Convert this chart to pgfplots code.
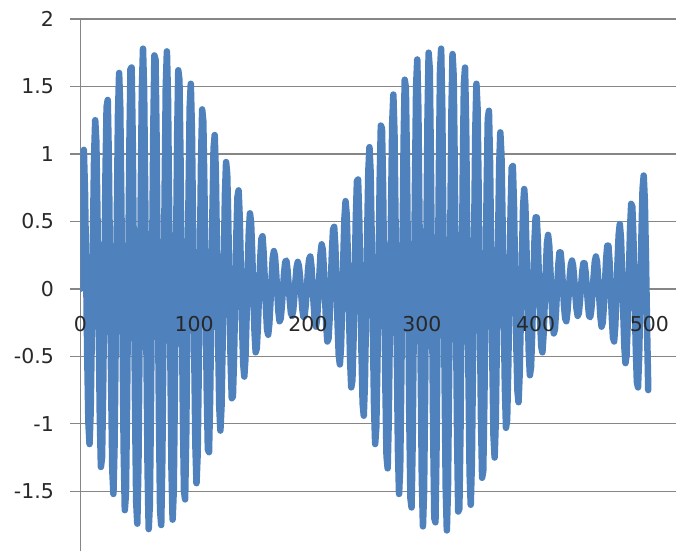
\documentclass[border=0pt]{standalone}
\usepackage{fontspec}
\setmainfont{DejaVu Sans}
\usepackage{pgfplots}
\pgfplotsset{compat=1.18}
\definecolor{exblue}{RGB}{79,129,189}
\definecolor{gridgray}{RGB}{134,134,134}
\definecolor{lblgray}{RGB}{40,40,40}
\begin{document}
\begin{tikzpicture}
\path (0,0) rectangle (677pt,552pt);
\begin{axis}[
 at={(80.5pt,0pt)}, anchor=south west,
 scale only axis, width=596.5pt, height=533pt,
 xmin=0, xmax=523.7, ymin=-1.946, ymax=2,
 clip mode=individual,
 axis x line=none, axis y line*=left,
 y axis line style={gridgray, line width=1.3pt},
 xtick=\empty,
 ytick={-1.5,-1,-0.5,0,0.5,1,1.5,2}, yticklabels={-1.5,-1,-0.5,0,0.5,1,1.5,2},
 ytick style={gridgray, line width=1.3pt},
 tick align=outside, major tick length=10pt,
 ymajorgrids, grid style={gridgray, line width=1.3pt},
 tick label style={font=\fontsize{20.5}{24}\selectfont, text=lblgray},
 yticklabel style={anchor=east, xshift=-13pt},
]
\addplot[exblue, line width=6.5pt, line join=round, line cap=round] coordinates {
(0,0) (1,0.58) (2,0.97) (3,1.03) (4,0.73) (5,0.16) (6,-0.50) (7,-0.99) (8,-1.15) (9,-0.91)
(10,-0.33) (11,0.38) (12,0.98) (13,1.25) (14,1.09) (15,0.53) (16,-0.23) (17,-0.93) (18,-1.32) (19,-1.25)
(20,-0.74) (21,0.05) (22,0.84) (23,1.35) (24,1.40) (25,0.95) (26,0.16) (27,-0.71) (28,-1.34) (29,-1.52)
(30,-1.16) (31,-0.38) (32,0.54) (33,1.29) (34,1.60) (35,1.35) (36,0.62) (37,-0.34) (38,-1.19) (39,-1.64)
(40,-1.52) (41,-0.85) (42,0.11) (43,1.05) (44,1.63) (45,1.64) (46,1.08) (47,0.13) (48,-0.87) (49,-1.58)
(50,-1.74) (51,-1.29) (52,-0.38) (53,0.67) (54,1.48) (55,1.78) (56,1.46) (57,0.63) (58,-0.43) (59,-1.34)
(60,-1.78) (61,-1.60) (62,-0.86) (63,0.18) (64,1.16) (65,1.73) (66,1.70) (67,1.07) (68,0.07) (69,-0.95)
(70,-1.64) (71,-1.75) (72,-1.25) (73,-0.32) (74,0.72) (75,1.50) (76,1.76) (77,1.40) (78,0.55) (79,-0.47)
(80,-1.33) (81,-1.71) (82,-1.50) (83,-0.76) (84,0.23) (85,1.13) (86,1.62) (87,1.55) (88,0.94) (89,0.01)
(90,-0.91) (91,-1.50) (92,-1.56) (93,-1.08) (94,-0.23) (95,0.68) (96,1.34) (97,1.52) (98,1.17) (99,0.43)
(100,-0.45) (101,-1.15) (102,-1.44) (103,-1.23) (104,-0.59) (105,0.23) (106,0.96) (107,1.33) (108,1.24) (109,0.72)
(110,-0.03) (111,-0.75) (112,-1.19) (113,-1.21) (114,-0.81) (115,-0.14) (116,0.56) (117,1.04) (118,1.14) (119,0.86)
(120,0.28) (121,-0.37) (122,-0.87) (123,-1.05) (124,-0.87) (125,-0.39) (126,0.20) (127,0.70) (128,0.94) (129,0.85)
(130,0.47) (131,-0.05) (132,-0.54) (133,-0.81) (134,-0.80) (135,-0.51) (136,-0.06) (137,0.39) (138,0.68) (139,0.73)
(140,0.53) (141,0.16) (142,-0.25) (143,-0.55) (144,-0.65) (145,-0.52) (146,-0.22) (147,0.14) (148,0.43) (149,0.56)
(150,0.49) (151,0.26) (152,-0.05) (153,-0.32) (154,-0.47) (155,-0.44) (156,-0.27) (157,-0.02) (158,0.22) (159,0.37)
(160,0.39) (161,0.27) (162,0.07) (163,-0.14) (164,-0.30) (165,-0.34) (166,-0.26) (167,-0.10) (168,0.08) (169,0.23)
(170,0.28) (171,0.24) (172,0.12) (173,-0.03) (174,-0.17) (175,-0.24) (176,-0.22) (177,-0.13) (178,0.00) (179,0.12)
(180,0.20) (181,0.21) (182,0.14) (183,0.03) (184,-0.09) (185,-0.18) (186,-0.20) (187,-0.16) (188,-0.06) (189,0.06)
(190,0.16) (191,0.20) (192,0.17) (193,0.09) (194,-0.03) (195,-0.15) (196,-0.21) (197,-0.20) (198,-0.12) (199,0.00)
(200,0.14) (201,0.22) (202,0.24) (203,0.17) (204,0.03) (205,-0.12) (206,-0.24) (207,-0.28) (208,-0.22) (209,-0.08)
(210,0.10) (211,0.26) (212,0.33) (213,0.29) (214,0.14) (215,-0.07) (216,-0.27) (217,-0.39) (218,-0.37) (219,-0.22)
(220,0.02) (221,0.27) (222,0.44) (223,0.46) (224,0.32) (225,0.05) (226,-0.26) (227,-0.49) (228,-0.56) (229,-0.43)
(230,-0.14) (231,0.22) (232,0.52) (233,0.65) (234,0.55) (235,0.25) (236,-0.16) (237,-0.53) (238,-0.73) (239,-0.68)
(240,-0.38) (241,0.07) (242,0.52) (243,0.80) (244,0.81) (245,0.53) (246,0.05) (247,-0.47) (248,-0.85) (249,-0.94)
(250,-0.70) (251,-0.19) (252,0.40) (253,0.87) (254,1.05) (255,0.87) (256,0.36) (257,-0.29) (258,-0.86) (259,-1.15)
(260,-1.03) (261,-0.55) (262,0.15) (263,0.81) (264,1.21) (265,1.19) (266,0.75) (267,0.03) (268,-0.72) (269,-1.24)
(270,-1.33) (271,-0.95) (272,-0.23) (273,0.60) (274,1.23) (275,1.44) (276,1.15) (277,0.44) (278,-0.43) (279,-1.18)
(280,-1.52) (281,-1.33) (282,-0.67) (283,0.24) (284,1.08) (285,1.55) (286,1.49) (287,0.90) (288,-0.02) (289,-0.95)
(290,-1.55) (291,-1.62) (292,-1.12) (293,-0.22) (294,0.77) (295,1.50) (296,1.70) (297,1.32) (298,0.46) (299,-0.56)
(300,-1.40) (301,-1.76) (302,-1.50) (303,-0.71) (304,0.33) (305,1.26) (306,1.75) (307,1.63) (308,0.94) (309,-0.08)
(310,-1.08) (311,-1.70) (312,-1.73) (313,-1.15) (314,-0.17) (315,0.87) (316,1.61) (317,1.78) (318,1.33) (319,0.42)
(320,-0.64) (321,-1.47) (322,-1.79) (323,-1.48) (324,-0.66) (325,0.39) (326,1.29) (327,1.74) (328,1.58) (329,0.87)
(330,-0.14) (331,-1.09) (332,-1.65) (333,-1.63) (334,-1.05) (335,-0.10) (336,0.86) (337,1.52) (338,1.64) (339,1.19)
(340,0.33) (341,-0.63) (342,-1.36) (343,-1.60) (344,-1.29) (345,-0.53) (346,0.39) (347,1.17) (348,1.52) (349,1.34)
(350,0.70) (351,-0.17) (352,-0.96) (353,-1.40) (354,-1.35) (355,-0.83) (356,-0.04) (357,0.75) (358,1.26) (359,1.32)
(360,0.93) (361,0.22) (362,-0.54) (363,-1.09) (364,-1.25) (365,-0.98) (366,-0.37) (367,0.34) (368,0.91) (369,1.16)
(370,0.99) (371,0.49) (372,-0.16) (373,-0.73) (374,-1.03) (375,-0.97) (376,-0.57) (377,0.01) (378,0.56) (379,0.90)
(380,0.91) (381,0.62) (382,0.12) (383,-0.39) (384,-0.75) (385,-0.84) (386,-0.63) (387,-0.22) (388,0.25) (389,0.61)
(390,0.74) (391,0.62) (392,0.29) (393,-0.12) (394,-0.47) (395,-0.64) (396,-0.58) (397,-0.33) (398,0.02) (399,0.35)
(400,0.53) (401,0.53) (402,0.35) (403,0.05) (404,-0.24) (405,-0.43) (406,-0.47) (407,-0.34) (408,-0.11) (409,0.15)
(410,0.34) (411,0.40) (412,0.32) (413,0.14) (414,-0.08) (415,-0.25) (416,-0.33) (417,-0.30) (418,-0.16) (419,0.02)
(420,0.18) (421,0.27) (422,0.27) (423,0.17) (424,0.02) (425,-0.13) (426,-0.22) (427,-0.24) (428,-0.17) (429,-0.05)
(430,0.09) (431,0.18) (432,0.21) (433,0.17) (434,0.07) (435,-0.05) (436,-0.15) (437,-0.20) (438,-0.18) (439,-0.09)
(440,0.02) (441,0.13) (442,0.19) (443,0.19) (444,0.12) (445,0.01) (446,-0.11) (447,-0.20) (448,-0.21) (449,-0.15)
(450,-0.04) (451,0.09) (452,0.20) (453,0.24) (454,0.20) (455,0.08) (456,-0.07) (457,-0.21) (458,-0.28) (459,-0.25)
(460,-0.13) (461,0.04) (462,0.22) (463,0.32) (464,0.32) (465,0.20) (466,0.00) (467,-0.21) (468,-0.36) (469,-0.39)
(470,-0.28) (471,-0.06) (472,0.20) (473,0.40) (474,0.48) (475,0.38) (476,0.14) (477,-0.16) (478,-0.43) (479,-0.55)
(480,-0.49) (481,-0.24) (482,0.10) (483,0.44) (484,0.63) (485,0.61) (486,0.37) (487,-0.02) (488,-0.42) (489,-0.69)
(490,-0.73) (491,-0.50) (492,-0.09) (493,0.38) (494,0.74) (495,0.84) (496,0.65) (497,0.22) (498,-0.31) (499,-0.75)
};
\node[anchor=north, yshift=-24pt, font=\fontsize{20.5}{24}\selectfont, text=lblgray] at (axis cs:0,0) {0};
\node[anchor=north, yshift=-24pt, font=\fontsize{20.5}{24}\selectfont, text=lblgray] at (axis cs:100,0) {100};
\node[anchor=north, yshift=-24pt, font=\fontsize{20.5}{24}\selectfont, text=lblgray] at (axis cs:200,0) {200};
\node[anchor=north, yshift=-24pt, font=\fontsize{20.5}{24}\selectfont, text=lblgray] at (axis cs:300,0) {300};
\node[anchor=north, yshift=-24pt, font=\fontsize{20.5}{24}\selectfont, text=lblgray] at (axis cs:400,0) {400};
\node[anchor=north, yshift=-24pt, font=\fontsize{20.5}{24}\selectfont, text=lblgray] at (axis cs:500,0) {500};
\end{axis}
\end{tikzpicture}
\end{document}
